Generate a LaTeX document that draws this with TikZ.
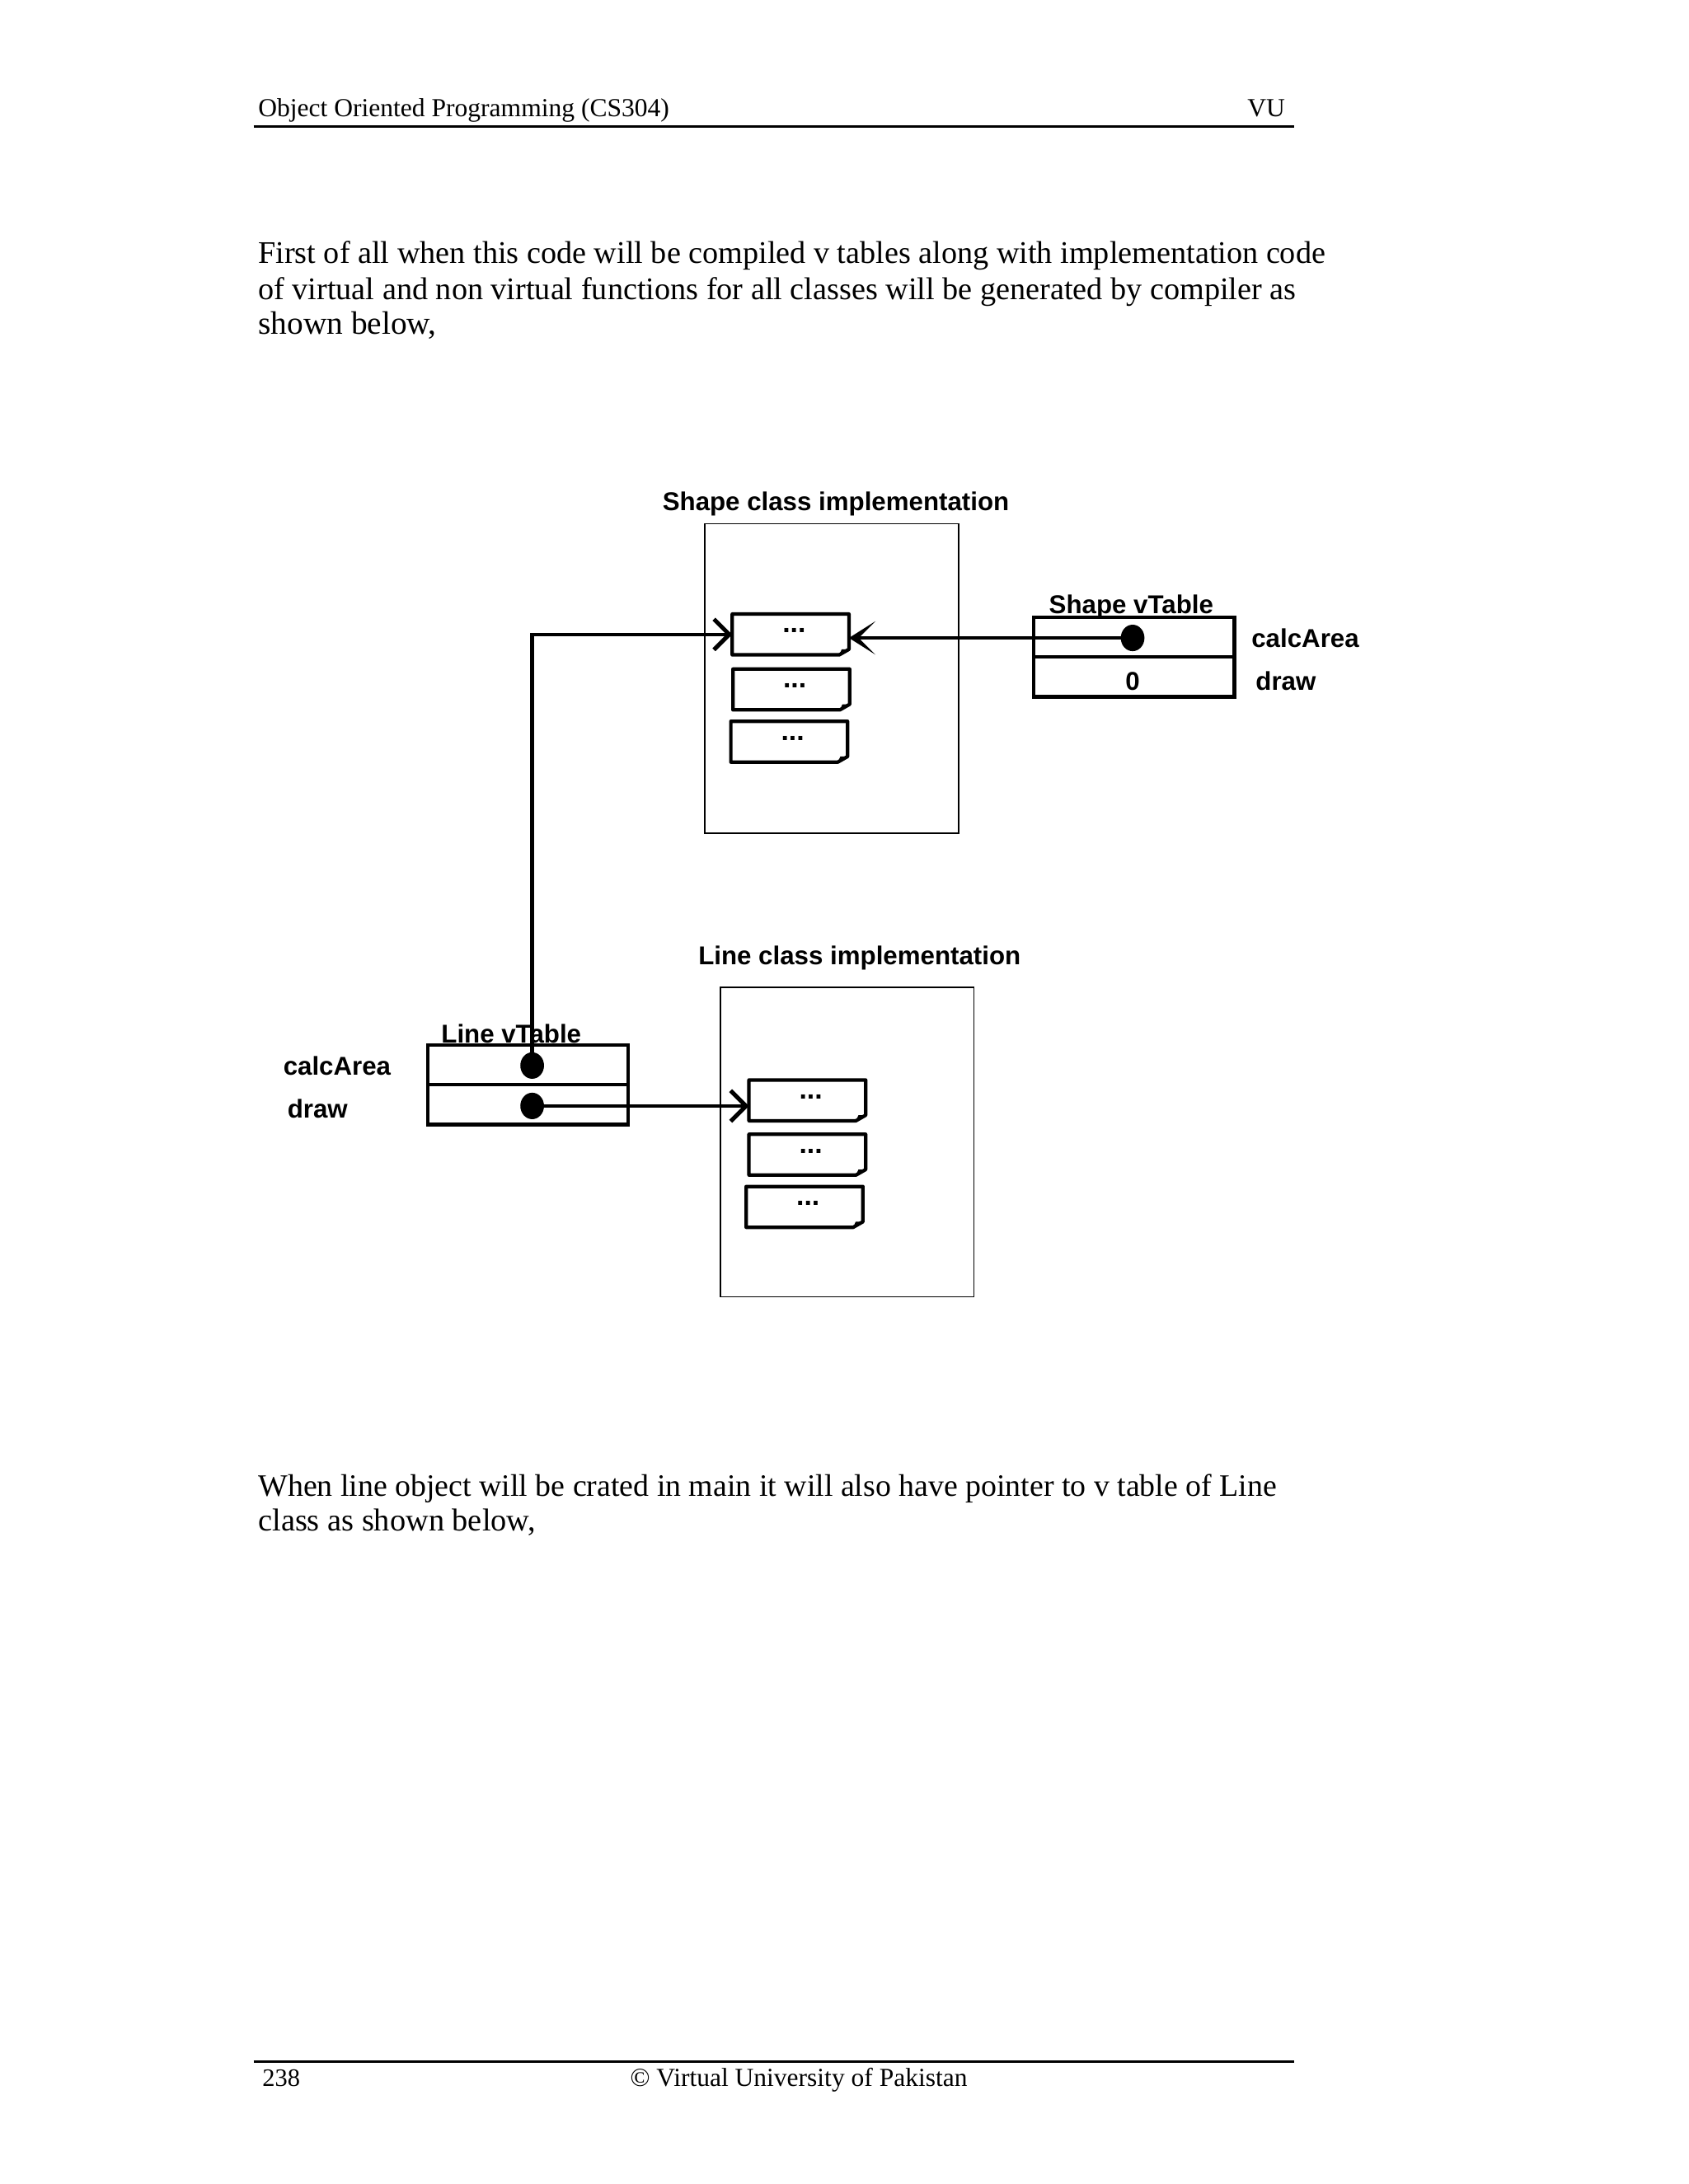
\documentclass[tikz,border=0pt]{standalone}
\usepackage{fontspec}
\setmainfont{Liberation Serif}
\setsansfont{Liberation Sans}
\usetikzlibrary{arrows.meta,shapes.geometric}
\newcommand{\fitw}[2]{\resizebox{#1}{!}{#2}}
\begin{document}
\begin{tikzpicture}[x=0.5pt,y=-0.5pt,
  txt/.style={anchor=base west,inner sep=0,font=\fontsize{12}{14}\selectfont},
  lbl/.style={inner sep=0,font=\sffamily\bfseries\fontsize{9.25}{11}\selectfont},
  implbox/.style={draw,line width=0.5pt,inner sep=0,minimum width=91pt,minimum height=111pt},
  vrow/.style={draw,line width=1.3pt,inner sep=0,minimum width=72pt,minimum height=14.25pt},
  fnbox/.style={draw=none,inner sep=0,minimum width=41.5pt,minimum height=14.25pt},
  fndots/.style={inner sep=0,anchor=base,font=\sffamily\bfseries\fontsize{10}{11}\selectfont},
  ptr/.style={ellipse,fill=black,draw=none,inner sep=0,minimum width=8.5pt,minimum height=9.5pt},
  conn/.style={line width=1.35pt},
  barb/.style={-{Straight Barb[length=5.5pt,width=11pt,line width=1.5pt]}},
  stl/.style={-{Stealth[length=9.5pt,width=12pt,inset=6pt]}},
  rule/.style={line width=1pt}
]
\useasboundingbox (0,0) rectangle (1212,1568);
\fill[white] (0,0) rectangle (1212,1568);

% header / footer
\node[txt] (hdr) at (185,84) {\fitw{147.5pt}{Object Oriented Programming (CS304)}};
\node[txt] (vu) at (895,84) {\fitw{13.5pt}{VU}};
\coordinate (hrA) at (182,91);
\coordinate (hrB) at (929,91);
\draw[rule] (hrA) -- (hrB);

\node[txt] (p1) at (185,189) {\fitw{383pt}{First of all when this code will be compiled v tables along with implementation code}};
\node[txt] (p2) at (185,215) {\fitw{372.5pt}{of virtual and non virtual functions for all classes will be generated by compiler as}};
\node[txt] (p3) at (185,240) {\fitw{64pt}{shown below,}};

\node[txt] (q1) at (185,1074) {\fitw{365.5pt}{When line object will be crated in main it will also have pointer to v table of Line}};
\node[txt] (q2) at (185,1099) {\fitw{99.5pt}{class as shown below,}};

\coordinate (frA) at (182,1480);
\coordinate (frB) at (929,1480);
\draw[rule] (frA) -- (frB);
\node[txt] (pg) at (188,1498) {\fitw{13.5pt}{238}};
\node[txt] (cp) at (452,1498) {\fitw{121pt}{© Virtual University of Pakistan}};

% ---------- Shape class ----------
\node[lbl] (stitle) at (600,362) {Shape class implementation};
\node[implbox] (simpl) at (597,487) {};

\node[fnbox] (sb1) at (567.5,455.5) {};
\node[fnbox] (sb2) at (568,495) {};
\node[fnbox] (sb3) at (566.5,532.5) {};

\node[lbl] (svt) at (812,436) {Shape vTable};
\node[vrow] (sv1) at (814,457.5) {};
\node[vrow] (sv2) at (814,486) {};
\node[lbl] (szero) at (813,489) {0};
\node[lbl,anchor=west] (scalc) at (898,458) {calcArea};
\node[lbl,anchor=west] (sdraw) at (901,489) {draw};
\node[ptr] (sd1) at (813,458) {};

% ---------- Line class ----------
\node[lbl] (ltitle) at (617,688) {Line class implementation};
\node[implbox] (limpl) at (608,820) {};

\node[fnbox] (lb1) at (579.5,790) {};
\node[fnbox] (lb2) at (579.5,829) {};
\node[fnbox] (lb3) at (577.5,866.5) {};

\node[lbl] (lvt) at (367,742) {Line vTable};
\node[vrow] (lv1) at (379,764.5) {};
\node[vrow] (lv2) at (379,793) {};
\node[lbl,anchor=west] (lcalc) at (203,765) {calcArea};
\node[lbl,anchor=west] (ldraw) at (206,796) {draw};
\node[ptr] (ld1) at (382,765) {};
\node[ptr] (ld2) at (382,794) {};

% function boxes with folded corner
\foreach \b in {sb1,sb2,sb3,lb1,lb2,lb3}{
  \draw[line width=1.25pt,line join=round]
    (\b.north west) -- (\b.north east) -- ([yshift=2pt]\b.south east)
    -- ([xshift=-3.5pt]\b.south east) -- (\b.south west) -- cycle;
  \fill ([xshift=-3.5pt]\b.south east) -- ([xshift=-2.6pt,yshift=2pt]\b.south east)
    -- ([yshift=2pt]\b.south east) -- cycle;
  \node[fndots] (\b dots) at ([xshift=1.25pt,yshift=-6.75pt]\b.north) {...};
}

% connectors
\draw[conn,barb] (ld1.center) |- (sb1.west);
\draw[conn,stl] (sd1.center) -- (sd1.center -| sb1.east);
\draw[conn,barb] (ld2.center) -- (ld2.center -| lb1.west);
\end{tikzpicture}
\end{document}
